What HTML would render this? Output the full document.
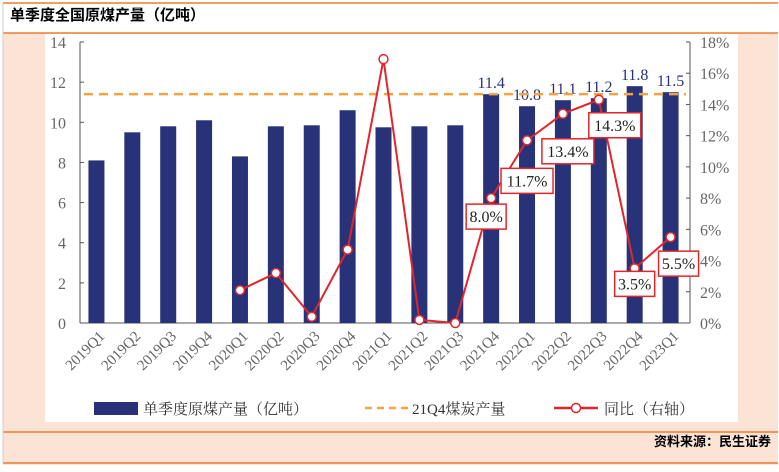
<!DOCTYPE html>
<html><head><meta charset="utf-8"><style>
body{margin:0;width:779px;height:467px;overflow:hidden;background:#fff;font-family:"Liberation Serif","Noto Serif CJK SC",serif}
</style></head><body>
<svg id="c" width="779" height="467" xmlns="http://www.w3.org/2000/svg">
<rect x="3" y="33" width="775" height="432" fill="#fbe3d6"/>
<rect x="45" y="34" width="693" height="388" fill="#fff"/>
<line x1="3" y1="3" x2="778" y2="3" stroke="#ed7d31" stroke-width="1.5"/>
<line x1="3" y1="33" x2="778" y2="33" stroke="#ed7d31" stroke-width="1.5"/>
<line x1="3" y1="432" x2="778" y2="432" stroke="#ed7d31" stroke-width="1.5"/>
<line x1="3" y1="463" x2="778" y2="463" stroke="#ed7d31" stroke-width="1.5"/>
<line x1="3" y1="3" x2="3" y2="463" stroke="#ccc" stroke-width="1"/>
<text x="10" y="20" font-size="15" font-weight="bold" font-family="Liberation Sans,Noto Sans CJK SC,sans-serif">单季度全国原煤产量（亿吨）</text>
<text x="771" y="446" font-size="13" font-weight="bold" text-anchor="end" font-family="Liberation Sans,Noto Sans CJK SC,sans-serif">资料来源：民生证券</text>
<g id="g"></g>
</svg>
<script>
const categories=["2019Q1","2019Q2","2019Q3","2019Q4","2020Q1","2020Q2","2020Q3","2020Q4","2021Q1","2021Q2","2021Q3","2021Q4","2022Q1","2022Q2","2022Q3","2022Q4","2023Q1"];
const production=[8.1,9.5,9.8,10.1,8.3,9.8,9.85,10.6,9.75,9.8,9.85,11.4,10.8,11.1,11.2,11.8,11.5];
const barLabels=[null,null,null,null,null,null,null,null,null,null,null,"11.4","10.8","11.1","11.2","11.8","11.5"];
const yoy=[null,null,null,null,2.1,3.2,0.4,4.7,16.9,0.2,0.0,8.0,11.7,13.4,14.3,3.5,5.5];
const yoyLabels=[null,null,null,null,null,null,null,null,null,null,null,"8.0%","11.7%","13.4%","14.3%","3.5%","5.5%"];
const refLine=11.4;
const leftTicks=[0,2,4,6,8,10,12,14];
const rightTicks=[0,2,4,6,8,10,12,14,16,18];
const NS="http://www.w3.org/2000/svg",g=document.getElementById('g');
const X0=80,X1=690,Y0=323,Y1=42;
const xc=i=>X0+(i+0.5)*(X1-X0)/categories.length-1.5;
const yl=v=>Y0-(v/14)*(Y0-Y1);
const yr=v=>Y0-(v/18)*(Y0-Y1);
function el(t,a,txt){const e=document.createElementNS(NS,t);for(const k in a)e.setAttribute(k,a[k]);if(txt!=null)e.textContent=txt;g.appendChild(e);return e;}
let e=el('line',{x1:X0,y1:Y1,x2:X0,y2:Y0,stroke:'#555'});
e=el('line',{x1:X1,y1:Y1,x2:X1,y2:Y0,stroke:'#555'});
e=el('line',{x1:X0,y1:Y0,x2:X1,y2:Y0,stroke:'#555'});
leftTicks.forEach(v=>{el('line',{x1:X0,y1:yl(v),x2:X0+4,y2:yl(v),stroke:'#555'});
 const t=el('text',{x:X0-14,y:yl(v)+6,'font-size':16,fill:'#666','text-anchor':'end'},v);});
rightTicks.forEach(v=>{el('line',{x1:X1-4,y1:yr(v),x2:X1,y2:yr(v),stroke:'#555'});
 const t=el('text',{x:X1+10,y:yr(v)+6,'font-size':16,fill:'#666'},v+'%');});
production.forEach((v,i)=>{const b=el('rect',{x:xc(i)-8,y:yl(v),width:16,height:Y0-yl(v),fill:'#283278'});
 
 if(barLabels[i]){const t=el('text',{x:xc(i),y:yl(v)-6,'font-size':16,fill:'#283278','text-anchor':'middle'},barLabels[i]);}});
categories.forEach((c,i)=>{const x=xc(i)+9,y=Y0+14;const t=el('text',{x:x,y:y,'font-size':15,fill:'#666','text-anchor':'end',transform:`rotate(-45 ${x} ${y})`},c);});
e=el('line',{x1:X0+4,y1:yl(refLine),x2:X1-4,y2:yl(refLine),stroke:'#f4a340','stroke-width':2.5,'stroke-dasharray':'9,6'});
let pts=[];yoy.forEach((v,i)=>{if(v!=null)pts.push(xc(i)+','+yr(v));});
e=el('polyline',{points:pts.join(' '),fill:'none',stroke:'#e0262c','stroke-width':2});
yoy.forEach((v,i)=>{if(v==null)return;const p=el('circle',{cx:xc(i),cy:yr(v),r:4.5,fill:'#fff',stroke:'#e0262c','stroke-width':1.5});});
const off={11:[-5,18],12:[0,40],13:[5,37],14:[16,25],15:[0,15],16:[8,26]};
yoyLabels.forEach((l,i)=>{if(!l)return;const o=off[i]||[0,-20];const cx=xc(i)+o[0],cy=yr(yoy[i])+o[1];const w=l.length>4?52:40;
 const r=el('rect',{x:cx-w/2,y:cy-12,width:w,height:25,fill:'#fff',stroke:'#e0262c','stroke-width':1.5});
 const t=el('text',{x:cx,y:cy+6,'font-size':16,fill:'#222','text-anchor':'middle'},l);});
const lf='Liberation Serif,Noto Serif CJK SC,serif';
e=el('rect',{x:94,y:402,width:44,height:13,fill:'#283278'});
e=el('text',{x:143,y:414,'font-size':15,fill:'#333','font-family':lf},'单季度原煤产量（亿吨）');
e=el('line',{x1:365,y1:408,x2:410,y2:408,stroke:'#f4a340','stroke-width':2.5,'stroke-dasharray':'7,5'});
e=el('text',{x:412,y:414,'font-size':15,fill:'#333','font-family':lf},'21Q4煤炭产量');
e=el('line',{x1:554,y1:408,x2:598,y2:408,stroke:'#e0262c','stroke-width':2.5});
el('circle',{cx:576,cy:408,r:4.5,fill:'#fff',stroke:'#e0262c','stroke-width':1.5});
e=el('text',{x:604,y:414,'font-size':15,fill:'#333','font-family':lf},'同比（右轴）');
</script>
</body></html>
